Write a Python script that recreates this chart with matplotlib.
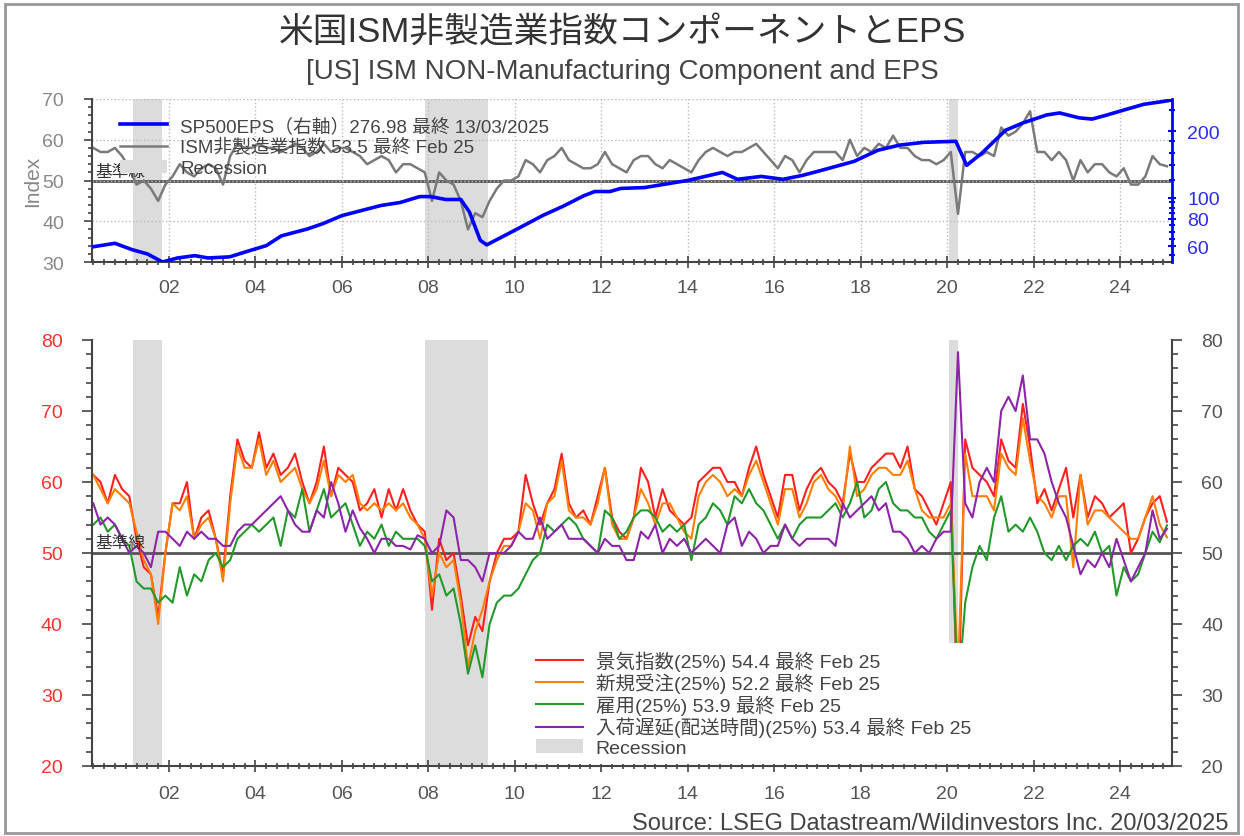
import numpy as np
import pandas as pd
import matplotlib

matplotlib.use('Agg')

import matplotlib.pyplot as plt
from matplotlib.patches import Patch, Rectangle
from matplotlib.lines import Line2D
from matplotlib.ticker import MultipleLocator, FixedLocator, NullFormatter, FixedFormatter

plt.rcParams['font.family'] = ['Liberation Sans', 'Noto Sans CJK JP', 'DejaVu Sans']

# ISM services, read every second month: Apr 2000 .. Feb 2025
ism_months = pd.date_range('2000-04-01', '2025-02-01', freq='2MS')

ism_composite = [
    58, 57, 57, 58, 56,
    53, 49, 50, 48, 45, 49,
    51, 54, 52, 51, 53, 54,
    53, 49, 56, 59, 58, 58,
    59, 58, 58, 57, 58, 59,
    58, 56, 57, 59, 57, 58,
    58, 57, 56, 54, 55, 56,
    55, 52, 54, 54, 53, 52,
    45, 52, 50, 49, 45, 38,
    42, 41, 45, 48, 50, 50,
    51, 55, 54, 52, 55, 56,
    58, 55, 54, 53, 53, 54,
    57, 54, 53, 52, 55, 56,
    56, 54, 53, 55, 54, 53,
    52, 55, 57, 58, 57, 56,
    57, 57, 58, 59, 57, 55,
    53, 56, 55, 52, 55, 57,
    57, 57, 57, 55, 60, 56,
    58, 57, 59, 58, 61, 58,
    58, 56, 55, 55, 54, 55,
    57, 41.8, 57, 57, 56, 57,
    56, 63, 61, 62, 64, 67,
    57, 57, 55, 57, 55, 50,
    55, 52, 54, 54, 52, 51,
    53, 49, 49, 51, 56, 54,
    53.5,
]

business_activity = [
    61, 60, 57, 61, 59,
    58, 52, 48, 47, 41, 50,
    57, 57, 60, 52, 55, 56,
    52, 47, 58, 66, 63, 62,
    67, 62, 64, 61, 62, 64,
    60, 57, 60, 65, 58, 62,
    61, 60, 56, 57, 59, 55,
    59, 56, 59, 56, 54, 53,
    42, 52, 49, 50, 44, 37,
    41, 39, 46, 50, 52, 52,
    53, 61, 57, 54, 57, 59,
    64, 57, 55, 56, 54, 58,
    62, 55, 53, 52, 55, 62,
    60, 55, 59, 56, 55, 54,
    55, 60, 61, 62, 62, 60,
    60, 58, 62, 65, 61, 58,
    55, 61, 61, 56, 59, 61,
    62, 60, 59, 57, 64, 60,
    60, 62, 63, 64, 64, 62,
    65, 59, 58, 56, 54, 57,
    60, 26, 66, 62, 61, 60,
    58, 66, 63, 62, 71, 65,
    57, 59, 56, 59, 62, 55,
    61, 55, 58, 57, 55, 56,
    57, 50, 52, 55, 57, 58,
    54.4,
]

new_orders = [
    61, 59, 57, 59, 58,
    57, 53, 49, 47, 40, 50,
    57, 56, 58, 52, 54, 55,
    52, 46, 57, 65, 62, 62,
    66, 61, 63, 60, 61, 62,
    59, 57, 59, 63, 58, 61,
    60, 61, 57, 56, 57, 56,
    57, 56, 57, 55, 54, 52,
    44, 50, 48, 49, 43, 34,
    39, 42, 46, 49, 51, 51,
    53, 57, 56, 52, 57, 58,
    63, 56, 55, 55, 54, 57,
    62, 54, 52, 52, 55, 59,
    57, 54, 57, 57, 55, 53,
    52, 58, 60, 61, 60, 58,
    59, 58, 61, 63, 60, 57,
    54, 59, 59, 55, 57, 60,
    61, 59, 58, 56, 65, 58,
    59, 61, 62, 62, 61, 61,
    63, 59, 56, 55, 55, 55,
    57, 32.9, 64, 58, 58, 58,
    56, 64, 62, 61, 69, 63,
    58, 57, 55, 58, 58, 48,
    61, 54, 56, 56, 55, 54,
    53, 52, 52, 55, 58, 54,
    52.2,
]

employment = [
    54, 55, 53, 54, 52,
    51, 46, 45, 45, 43, 44,
    43, 48, 44, 47, 46, 49,
    50, 48, 49, 52, 53, 54,
    53, 54, 55, 51, 56, 55,
    59, 53, 56, 59, 55, 56,
    57, 54, 51, 53, 52, 54,
    51, 53, 52, 52, 52, 51,
    46, 47, 44, 45, 40, 33,
    37, 32.5, 40, 43, 44, 44,
    45, 47, 49, 50, 54, 53,
    54, 55, 54, 52, 51, 50,
    56, 55, 52, 53, 55, 56,
    56, 55, 53, 54, 53, 54,
    49, 54, 55, 57, 56, 54,
    58, 57, 59, 57, 56, 54,
    52, 54, 52, 54, 55, 55,
    55, 56, 57, 55, 57, 60,
    55, 56, 59, 60, 57, 56,
    56, 55, 55, 53, 52, 54,
    56, 30, 43, 48, 51, 49,
    55, 58, 53, 54, 53, 55,
    53, 50, 49, 51, 49, 51,
    52, 51, 53, 50, 51, 44,
    48, 46, 47, 50, 53, 51.5,
    53.9,
]

supplier_deliveries = [
    57, 54, 55, 54, 52,
    50, 51, 50, 48, 53, 53,
    52, 51, 53, 52, 53, 52,
    52, 51, 51, 53, 54, 54,
    55, 56, 57, 58, 56, 54,
    53, 53, 56, 55, 60, 57,
    53, 56, 53.5, 52, 50, 52,
    52, 51, 51, 50.5, 52.5, 52,
    50, 51, 56, 55, 49, 49,
    48, 46, 50, 50, 50, 51,
    53, 52, 52, 55, 52, 53,
    54, 52, 52, 52, 51, 50,
    52, 51, 51, 49, 49, 53,
    52, 54, 50, 52, 51, 52,
    50, 51, 52, 51, 50, 54,
    55, 51, 53, 52, 50, 51,
    51, 54, 52, 51, 52, 52,
    52, 52, 51, 57, 55, 56,
    57, 58, 56, 57, 53, 53,
    52, 50, 51, 50, 52, 53,
    53, 78.3, 57, 55, 60, 62,
    60, 70, 72, 70, 75, 66,
    66, 64, 60, 57, 55, 51,
    47, 49, 48, 50, 48, 52,
    49, 46, 48, 50, 56, 52,
    53.4,
]

# S&P 500 EPS (right axis, log), decimal years
eps_dates = [2000.22, 2000.75, 2001.15, 2001.5, 2001.85, 2002.2, 2002.6, 2002.9,
             2003.4, 2003.85, 2004.25, 2004.6, 2005.2, 2005.55, 2006.0, 2006.45,
             2006.9, 2007.35, 2007.8, 2008.05, 2008.4, 2008.75, 2008.95, 2009.2,
             2009.35, 2009.75, 2010.2, 2010.65, 2011.1, 2011.6, 2011.85, 2012.2,
             2012.45, 2013.0, 2014.0, 2014.8, 2015.15, 2015.7, 2016.2, 2016.65,
             2017.1, 2017.85, 2018.4, 2018.9, 2019.45, 2020.2, 2020.45, 2020.8,
             2021.35, 2021.75, 2022.3, 2022.6, 2023.05, 2023.35, 2023.7, 2024.1,
             2024.55, 2024.95, 2025.2]
eps = [59.7, 62, 58, 55.5, 51, 53.2, 54.5, 53.2, 53.8, 57.3, 60.5, 67, 72, 76,
       82.8, 87.3, 92, 95, 101, 101, 98, 98, 86, 64, 61, 67, 74.5, 83, 91, 102,
       106.5, 106.5, 110, 111, 119.6, 130, 121, 124.7, 121, 126, 133, 146, 164,
       173, 178, 180, 140, 159, 202, 218, 237, 242, 230, 227, 237, 250, 265,
       272, 276.98]

recessions = [(2001.17, 2001.83), (2007.92, 2009.38), (2020.05, 2020.25)]

year_ticks = list(range(2002, 2025, 2))
year_labels = ['%02d' % (y % 100) for y in year_ticks]

t = ism_months.year + (ism_months.month - 1) / 12.0

W, H = 1244, 837
fig = plt.figure(figsize=(W / 100, H / 100), dpi=100)
fig.patches.append(Rectangle((5 / W, 3 / H), 1233 / W, 829 / H, transform=fig.transFigure,
                             fill=False, edgecolor='#999999', lw=2))

fig.text(0.5, 1 - 32 / H, '米国ISM非製造業指数コンポーネントとEPS', ha='center', va='center',
         fontsize=25, color='#333333')
fig.text(0.5, 1 - 72 / H, '[US] ISM NON-Manufacturing Component and EPS', ha='center', va='center',
         fontsize=20, color='#444444')
fig.text(1228 / W, 1 - 824 / H, 'Source: LSEG Datastream/Wildinvestors Inc. 20/03/2025',
         ha='right', va='center', fontsize=17, color='#444444')

x0, x1 = 2000.22, 2025.2
rec_color = '#dcdcdc'
tick_col = '#444444'

# ---------------- top panel ----------------
ax1 = fig.add_axes([92 / W, 1 - 263 / H, (1172 - 92) / W, (263 - 100) / H])
for a, b in recessions:
    ax1.axvspan(a, b, color=rec_color, lw=0, zorder=0)
ax1.axhline(50, color='#555555', lw=2, zorder=1)
ax1.plot(t, ism_composite, color='#7a7a7a', lw=1.8, zorder=2)
ax1.set_xlim(x0, x1)
ax1.set_ylim(30, 70)
ax1.yaxis.set_major_locator(MultipleLocator(10))
ax1.yaxis.set_minor_locator(MultipleLocator(2))
ax1.set_xticks(year_ticks)
ax1.set_xticklabels(year_labels)
ax1.xaxis.set_minor_locator(MultipleLocator(0.25))
ax1.grid(True, which='major', linestyle=':', color='#bbbbbb', lw=1)
ax1.tick_params(axis='y', which='major', labelsize=14, labelcolor='#888888', color=tick_col,
                length=6, width=1.2, direction='out', pad=14)
ax1.tick_params(axis='y', which='minor', color=tick_col, length=3, width=1.2, direction='out')
ax1.tick_params(axis='x', which='major', labelsize=14, labelcolor='#555555', color=tick_col,
                length=8, width=1.2, direction='inout', pad=8)
ax1.tick_params(axis='x', which='minor', color=tick_col, length=5, width=1.2, direction='inout')
ax1.set_ylabel('Index', fontsize=15, color='#888888', labelpad=0)
for s in ['top', 'right']:
    ax1.spines[s].set_visible(False)
for s in ['left', 'bottom']:
    ax1.spines[s].set_color('#444444')
    ax1.spines[s].set_linewidth(1.5)
ax1.text(2000.3, 50.4, '基準線', fontsize=12, color='#333333', va='bottom', zorder=5)

ax1b = ax1.twinx()
ax1b.plot(eps_dates, eps, color='#0000ff', lw=2.6, zorder=3)
ax1b.set_yscale('log')
ax1b.set_ylim(51, 280)
ax1b.set_xlim(x0, x1)
ax1b.yaxis.set_major_locator(FixedLocator([60, 80, 100, 200]))
ax1b.yaxis.set_minor_locator(FixedLocator([55, 65, 70, 75, 85, 90, 95, 120, 140, 160, 180, 250]))
ax1b.yaxis.set_major_formatter(FixedFormatter(['60', '80', '100', '200']))
ax1b.yaxis.set_minor_formatter(NullFormatter())
ax1b.tick_params(axis='y', which='major', labelsize=14, labelcolor='#2b2bff', color='#0000ff',
                 length=6, width=1.5, direction='inout', pad=8)
ax1b.tick_params(axis='y', which='minor', color='#0000ff', length=4, width=1.5, direction='inout')
for s in ['top', 'left', 'bottom']:
    ax1b.spines[s].set_visible(False)
ax1b.spines['right'].set_color('#0000ff')
ax1b.spines['right'].set_linewidth(2)

top_handles = [
    Line2D([], [], color='#0000ff', lw=2.6),
    Line2D([], [], color='#7a7a7a', lw=1.8),
    Patch(facecolor=rec_color, edgecolor='none'),
]
top_labels = ['SP500EPS（右軸）276.98 最終 13/03/2025', 'ISM非製造業指数 53.5 最終 Feb 25', 'Recession']
leg1 = ax1b.legend(top_handles, top_labels, loc='upper left', bbox_to_anchor=(0.026, 0.89),
                   frameon=False, fontsize=13.5, handlelength=2.5, handletextpad=0.7,
                   labelspacing=0.2, borderaxespad=0, borderpad=0)
for txt in leg1.get_texts():
    txt.set_color('#444444')

# ---------------- bottom panel ----------------
ax2 = fig.add_axes([92 / W, 1 - 767 / H, (1172 - 92) / W, (767 - 341) / H])
for a, b in recessions:
    ax2.axvspan(a, b, color=rec_color, lw=0, zorder=0)
ax2.axhline(50, color='#555555', lw=2, zorder=1)
series = [
    (business_activity, '#ff2020', '景気指数(25%) 54.4 最終 Feb 25'),
    (new_orders, '#ff7f00', '新規受注(25%) 52.2 最終 Feb 25'),
    (employment, '#22992a', '雇用(25%) 53.9 最終 Feb 25'),
    (supplier_deliveries, '#8e24aa', '入荷遅延(配送時間)(25%) 53.4 最終 Feb 25'),
]
bottom_handles = []
for vals, col, lab in series:
    ln, = ax2.plot(t, vals, color=col, lw=1.5, zorder=2)
    bottom_handles.append(ln)
bottom_handles.append(Patch(facecolor=rec_color, edgecolor='none'))
bottom_labels = [s[2] for s in series] + ['Recession']

ax2.set_xlim(x0, x1)
ax2.set_ylim(20, 80)
ax2.yaxis.set_major_locator(MultipleLocator(10))
ax2.yaxis.set_minor_locator(MultipleLocator(2))
ax2.set_xticks(year_ticks)
ax2.set_xticklabels(year_labels)
ax2.xaxis.set_minor_locator(MultipleLocator(0.25))
ax2.tick_params(axis='y', which='major', labelsize=14, labelcolor='#ff3030', color=tick_col,
                length=7, width=1.2, direction='out', pad=14)
ax2.tick_params(axis='y', which='minor', color=tick_col, length=4, width=1.2, direction='out')
ax2.tick_params(axis='x', which='major', labelsize=14, labelcolor='#555555', color=tick_col,
                length=8, width=1.2, direction='inout', pad=10)
ax2.tick_params(axis='x', which='minor', color=tick_col, length=5, width=1.2, direction='inout')
ax2.spines['top'].set_visible(False)
ax2.spines['right'].set_visible(False)
for s in ['left', 'bottom']:
    ax2.spines[s].set_color('#444444')
    ax2.spines[s].set_linewidth(1.5)
ax2.text(2000.3, 50.4, '基準線', fontsize=12, color='#333333', va='bottom', zorder=5)

ax2r = ax2.twinx()
ax2r.set_ylim(20, 80)
ax2r.yaxis.set_major_locator(MultipleLocator(10))
ax2r.yaxis.set_minor_locator(MultipleLocator(2))
ax2r.tick_params(axis='y', which='major', labelsize=14, labelcolor='#555555', color=tick_col,
                 length=7, width=1.2, direction='out', pad=14)
ax2r.tick_params(axis='y', which='minor', color=tick_col, length=4, width=1.2, direction='out')
for s in ['top', 'left', 'bottom']:
    ax2r.spines[s].set_visible(False)
ax2r.spines['right'].set_color('#444444')
ax2r.spines['right'].set_linewidth(1.5)

leg2 = ax2r.legend(bottom_handles, bottom_labels, loc='upper left', bbox_to_anchor=(0.405, 0.288),
                   frameon=True, facecolor='white', edgecolor='none', framealpha=1,
                   fontsize=14, handlelength=2.4, handletextpad=0.65, labelspacing=0.1,
                   borderaxespad=0, borderpad=0.35, fancybox=False)
for txt in leg2.get_texts():
    txt.set_color('#444444')

plt.savefig('out.png', dpi=100)
plt.close(fig)
